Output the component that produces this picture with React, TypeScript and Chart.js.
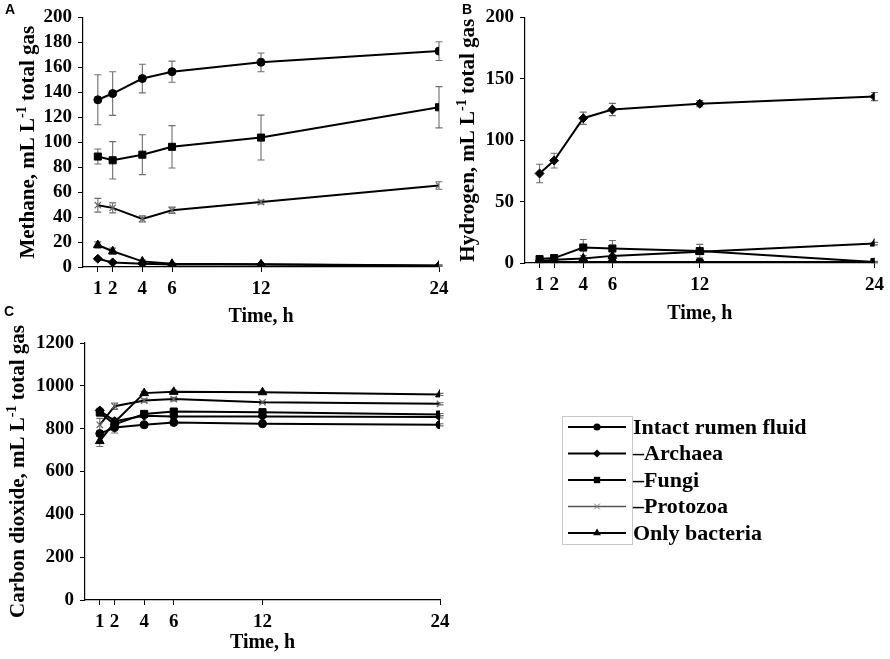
import { useEffect, useRef } from 'react';
import Chart from 'chart.js/auto';

const hours = [1, 2, 4, 6, 12, 24];
const seriesLabels = ['Intact rumen fluid', '–Archaea', '–Fungi', '–Protozoa', 'Only bacteria'];

// A: methane, mL/L total gas (mean and error)
const ch4Intact = [134, 139, 151, 156.5, 164, 173];
const ch4Archaea = [6.6, 3.7, 2.6, 2.0, 2.0, 1.0];
const ch4Fungi = [88.5, 85.5, 90, 96.3, 103.7, 128];
const ch4Protozoa = [49.5, 47.4, 38.5, 45.5, 52, 65.3];
const ch4Bacteria = [17.6, 12.6, 4.5, 2.6, 2.2, 1.2];
const ch4IntactErr = [20, 17.5, 11.5, 8.5, 7.5, 7.5];
const ch4ArchaeaErr = [1, 0.8, 0.5, 0.5, 0.5, 0.3];
const ch4FungiErr = [6, 15, 16, 17, 18, 16.5];
const ch4ProtozoaErr = [5.5, 4, 2.5, 2.5, 1.5, 3];
const ch4BacteriaErr = [2.5, 2.5, 1, 0.8, 0.5, 0.5];
const ch4Ticks = [0, 20, 40, 60, 80, 100, 120, 140, 160, 180, 200];

// B: hydrogen
const h2Intact = [0.8, 0.8, 0.8, 0.8, 0.8, 0.8];
const h2Archaea = [72.9, 83.4, 117.9, 125, 129.7, 135.5];
const h2Fungi = [3.2, 4, 12.6, 11.8, 9.7, 0.8];
const h2Protozoa = [0.5, 0.5, 0.5, 0.5, 0.5, 0.5];
const h2Bacteria = [1.5, 2.6, 3.7, 5.8, 9.2, 15.8];
const h2IntactErr = [0.3, 0.3, 0.3, 0.3, 0.3, 0.3];
const h2ArchaeaErr = [7.5, 6, 5, 5, 2.5, 3.3];
const h2FungiErr = [1, 1.5, 6.5, 6.5, 5.5, 0.5];
const h2ProtozoaErr = [0.2, 0.2, 0.2, 0.2, 0.2, 0.2];
const h2BacteriaErr = [0.5, 0.5, 1, 1, 1, 1];
const h2Ticks = [0, 50, 100, 150, 200];

// C: carbon dioxide
const co2Intact = [777, 805, 818, 829, 823, 818];
const co2Archaea = [885, 835, 860, 857, 857, 855];
const co2Fungi = [875, 820, 869, 880, 877, 866];
const co2Protozoa = [818, 905, 931, 938, 923, 916];
const co2Bacteria = [742, 830, 966, 972, 970, 960];
const co2IntactErr = [10, 25, 5, 5, 5, 5];
const co2ArchaeaErr = [10, 15, 8, 8, 5, 5];
const co2FungiErr = [10, 15, 8, 8, 8, 5];
const co2ProtozoaErr = [30, 15, 8, 8, 5, 5];
const co2BacteriaErr = [25, 15, 8, 8, 5, 5];
const co2Ticks = [0, 200, 400, 600, 800, 1000, 1200];

const serif = '"Liberation Serif", "Times New Roman", serif';
const pointStyles = ['circle', 'rectRot', 'rect', 'crossRot', 'triangle'];
const pointRadii = [4, 4.5, 5, 4.5, 5];

type Box = { left: number; top: number; right: number; bottom: number };

type PanelProps = {
  left: number;
  top: number;
  width: number;
  height: number;
  area: Box;
  yTicks: number[];
  series: number[][];
  errors: number[][];
  yTitle: string[];
  yTitleX: number;
  xTitleY: number;
  letter: string;
  letterPos: [number, number];
  legend?: Box;
};

function drawMarker(ctx: CanvasRenderingContext2D, style: string, x: number, y: number, r: number, color: string) {
  ctx.save();
  ctx.fillStyle = color;
  ctx.strokeStyle = color;
  ctx.lineWidth = 1;
  ctx.beginPath();
  if (style === 'circle') {
    ctx.arc(x, y, r, 0, Math.PI * 2);
    ctx.fill();
  } else if (style === 'rectRot') {
    ctx.moveTo(x - r, y);
    ctx.lineTo(x, y - r);
    ctx.lineTo(x + r, y);
    ctx.lineTo(x, y + r);
    ctx.closePath();
    ctx.fill();
  } else if (style === 'rect') {
    const s = r * Math.SQRT1_2;
    ctx.rect(x - s, y - s, 2 * s, 2 * s);
    ctx.fill();
  } else if (style === 'crossRot') {
    const s = r * Math.SQRT1_2;
    ctx.moveTo(x - s, y - s);
    ctx.lineTo(x + s, y + s);
    ctx.moveTo(x + s, y - s);
    ctx.lineTo(x - s, y + s);
    ctx.stroke();
  } else {
    ctx.moveTo(x, y - r);
    ctx.lineTo(x + r * 0.866, y + r * 0.5);
    ctx.lineTo(x - r * 0.866, y + r * 0.5);
    ctx.closePath();
    ctx.fill();
  }
  ctx.restore();
}

function Panel(props: PanelProps) {
  const canvasRef = useRef<HTMLCanvasElement>(null);
  const chartRef = useRef<Chart | null>(null);

  useEffect(() => {
    if (!canvasRef.current) return;
    if (chartRef.current) chartRef.current.destroy();

    const { area, width, height, yTicks, series, errors } = props;

    const errorBars = {
      id: 'errorBars',
      beforeDatasetsDraw(chart: any) {
        const ctx = chart.ctx;
        const y = chart.scales.y;
        ctx.save();
        ctx.strokeStyle = '#6e6e6e';
        ctx.lineWidth = 1.1;
        series.forEach((vals, i) => {
          const meta = chart.getDatasetMeta(i);
          vals.forEach((v, j) => {
            const e = errors[i][j];
            const px = meta.data[j].x;
            const top = y.getPixelForValue(v + e);
            const bot = y.getPixelForValue(v - e);
            ctx.beginPath();
            ctx.moveTo(px, top);
            ctx.lineTo(px, bot);
            ctx.moveTo(px - 3.5, top);
            ctx.lineTo(px + 3.5, top);
            ctx.moveTo(px - 3.5, bot);
            ctx.lineTo(px + 3.5, bot);
            ctx.stroke();
          });
        });
        ctx.restore();
      },
    };

    const decorations = {
      id: 'decorations',
      afterDraw(chart: any) {
        const ctx: CanvasRenderingContext2D = chart.ctx;
        const ca = chart.chartArea;
        ctx.save();
        ctx.fillStyle = '#000';

        // panel letter
        ctx.font = 'bold 14px "Liberation Sans", Arial, sans-serif';
        ctx.textAlign = 'center';
        ctx.textBaseline = 'middle';
        ctx.fillText(props.letter, props.letterPos[0], props.letterPos[1]);

        // x title
        ctx.font = `bold 20px ${serif}`;
        ctx.fillText('Time, h', (ca.left + ca.right) / 2, props.xTitleY);

        // y title with superscript
        const [p1, p2, p3] = props.yTitle;
        const mainFont = `bold 21px ${serif}`;
        const supFont = `bold 14px ${serif}`;
        ctx.font = mainFont;
        const w1 = ctx.measureText(p1).width;
        const w3 = ctx.measureText(p3).width;
        ctx.font = supFont;
        const w2 = ctx.measureText(p2).width;
        ctx.translate(props.yTitleX, (ca.top + ca.bottom) / 2);
        ctx.rotate(-Math.PI / 2);
        ctx.textAlign = 'left';
        ctx.textBaseline = 'alphabetic';
        let x = -(w1 + w2 + w3) / 2;
        ctx.font = mainFont;
        ctx.fillText(p1, x, 7);
        x += w1;
        ctx.font = supFont;
        ctx.fillText(p2, x, -1);
        x += w2;
        ctx.font = mainFont;
        ctx.fillText(p3, x, 7);
        ctx.restore();

        // legend
        const lg = props.legend;
        if (!lg) return;
        ctx.save();
        ctx.strokeStyle = '#c8c8c8';
        ctx.lineWidth = 1;
        ctx.strokeRect(lg.left + 0.5, lg.top + 0.5, lg.right - lg.left, lg.bottom - lg.top);
        ctx.font = `bold 22px ${serif}`;
        ctx.textAlign = 'left';
        ctx.textBaseline = 'middle';
        seriesLabels.forEach((label, i) => {
          const ry = lg.top + 11 + i * 26.5;
          const gray = i === 3;
          ctx.strokeStyle = gray ? '#555' : '#000';
          ctx.lineWidth = gray ? 1.3 : 2;
          ctx.beginPath();
          ctx.moveTo(lg.left + 6, ry);
          ctx.lineTo(lg.right - 6, ry);
          ctx.stroke();
          drawMarker(ctx, pointStyles[i], (lg.left + lg.right) / 2, ry, pointRadii[i] * 0.9, gray ? '#777' : '#000');
          ctx.fillStyle = '#000';
          ctx.fillText(label, lg.right + 1, ry + 1);
        });
        ctx.restore();
      },
    };

    const tickFont = { family: serif, size: 19, weight: 'bold' as const };

    chartRef.current = new Chart(canvasRef.current, {
      type: 'line',
      data: {
        datasets: series.map((vals, i) => ({
          label: seriesLabels[i],
          data: vals.map((v, j) => ({ x: hours[j], y: v })),
          borderColor: '#000',
          borderWidth: 2,
          pointStyle: pointStyles[i] as any,
          pointRadius: pointRadii[i],
          pointBackgroundColor: i === 3 ? '#777' : '#000',
          pointBorderColor: i === 3 ? '#666' : '#000',
          pointBorderWidth: i === 3 ? 1.2 : 1,
          tension: 0,
          fill: false,
        })),
      },
      options: {
        animation: false,
        responsive: true,
        maintainAspectRatio: false,
        layout: {
          padding: { left: 0, bottom: 0, top: area.top, right: width - area.right },
        },
        plugins: {
          legend: { display: false },
          tooltip: { enabled: false },
        },
        scales: {
          x: {
            type: 'linear',
            min: 0,
            max: 24,
            afterBuildTicks: (s: any) => {
              s.ticks = hours.map((v) => ({ value: v }));
            },
            afterFit: (s: any) => {
              s.height = height - area.bottom;
            },
            grid: { drawOnChartArea: false, drawTicks: true, tickLength: 5, color: '#000' },
            border: { display: true, color: '#000', width: 1.2 },
            ticks: {
              color: '#000',
              font: tickFont,
              padding: 6,
              maxRotation: 0,
              autoSkip: false,
              callback: (v: any) => String(v),
            },
          },
          y: {
            min: yTicks[0],
            max: yTicks[yTicks.length - 1],
            afterBuildTicks: (s: any) => {
              s.ticks = yTicks.map((v) => ({ value: v }));
            },
            afterFit: (s: any) => {
              s.width = area.left;
            },
            grid: { drawOnChartArea: false, drawTicks: true, tickLength: 5, color: '#000' },
            border: { display: true, color: '#000', width: 1.2 },
            ticks: {
              color: '#000',
              font: tickFont,
              padding: 6,
              autoSkip: false,
              callback: (v: any) => String(v),
            },
          },
        },
      },
      plugins: [errorBars, decorations],
    });

    return () => {
      if (chartRef.current) {
        chartRef.current.destroy();
        chartRef.current = null;
      }
    };
  }, []);

  return (
    <div
      style={{
        position: 'absolute',
        left: props.left,
        top: props.top,
        width: props.width,
        height: props.height,
      }}
    >
      <canvas ref={canvasRef}></canvas>
    </div>
  );
}

export default function App() {
  return (
    <div style={{ position: 'absolute', left: 0, top: 0, width: 890, height: 659, background: '#fff' }}>
      <Panel
        left={0}
        top={0}
        width={470}
        height={330}
        area={{ left: 83, top: 13, right: 439, bottom: 267 }}
        yTicks={ch4Ticks}
        series={[ch4Intact, ch4Archaea, ch4Fungi, ch4Protozoa, ch4Bacteria]}
        errors={[ch4IntactErr, ch4ArchaeaErr, ch4FungiErr, ch4ProtozoaErr, ch4BacteriaErr]}
        yTitle={['Methane, mL L', '-1', ' total gas']}
        yTitleX={27}
        xTitleY={317}
        letter="A"
        letterPos={[10, 10]}
      />
      <Panel
        left={440}
        top={0}
        width={450}
        height={330}
        area={{ left: 85, top: 10, right: 438, bottom: 263 }}
        yTicks={h2Ticks}
        series={[h2Intact, h2Archaea, h2Fungi, h2Protozoa, h2Bacteria]}
        errors={[h2IntactErr, h2ArchaeaErr, h2FungiErr, h2ProtozoaErr, h2BacteriaErr]}
        yTitle={['Hydrogen, mL L', '-1', ' total gas']}
        yTitleX={27}
        xTitleY={314}
        letter="B"
        letterPos={[27, 10]}
      />
      <Panel
        left={0}
        top={300}
        width={890}
        height={359}
        area={{ left: 85, top: 43, right: 440, bottom: 300 }}
        yTicks={co2Ticks}
        series={[co2Intact, co2Archaea, co2Fungi, co2Protozoa, co2Bacteria]}
        errors={[co2IntactErr, co2ArchaeaErr, co2FungiErr, co2ProtozoaErr, co2BacteriaErr]}
        yTitle={['Carbon dioxide, mL L', '-1', ' total gas']}
        yTitleX={17}
        xTitleY={343}
        letter="C"
        letterPos={[9, 12]}
        legend={{ left: 562, top: 116, right: 632, bottom: 244 }}
      />
    </div>
  );
}
